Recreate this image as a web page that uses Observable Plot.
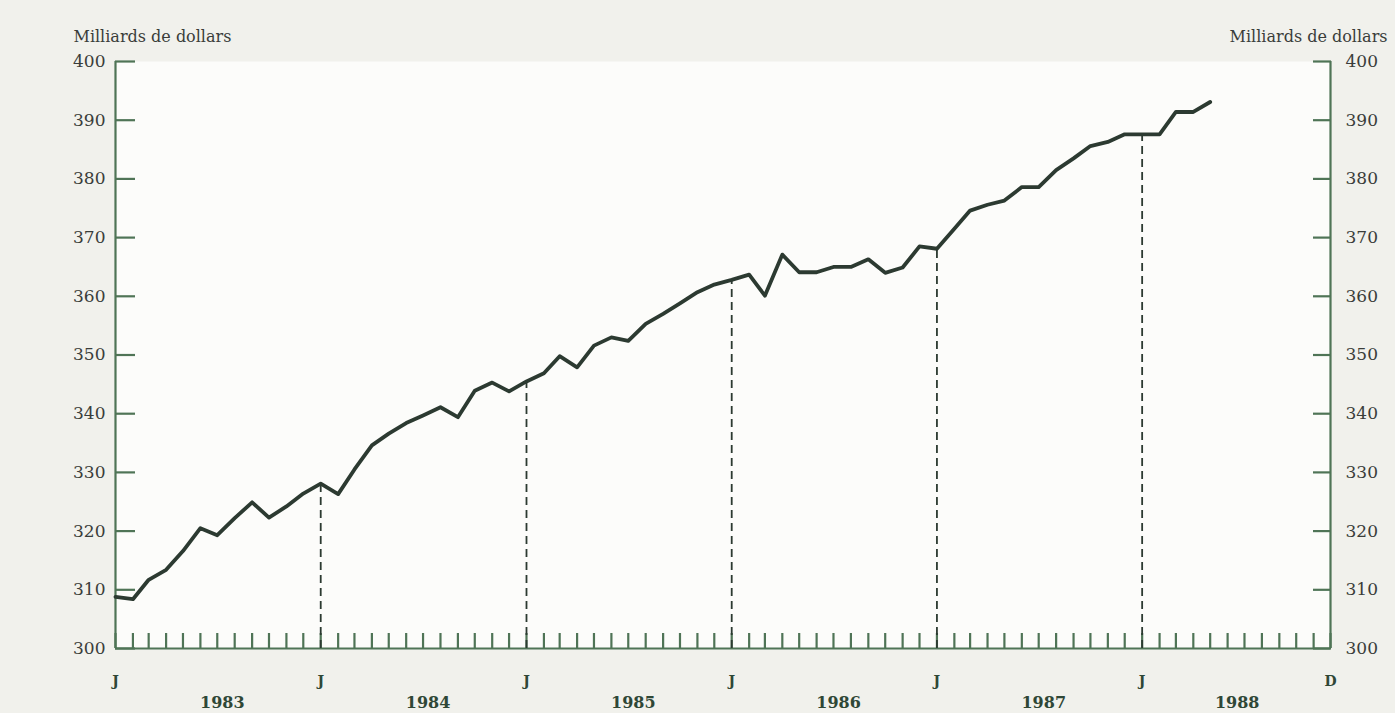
<!DOCTYPE html>
<html>
<head>
<meta charset="utf-8">
<script src="https://cdn.jsdelivr.net/npm/d3@7"></script>
<script src="https://cdn.jsdelivr.net/npm/@observablehq/plot@0.6"></script>
<style>
  html, body { margin: 0; padding: 0; background: #f1f1ec; }
  #chart { width: 1395px; height: 713px; }
</style>
</head>
<body>
<div id="chart"></div>
<script>
// Monthly values, billions of dollars
const years = [1983, 1984, 1985, 1986, 1987, 1988];
const values1983 = [308.8, 308.4, 311.7, 313.4, 316.6, 320.5, 319.3, 322.2, 324.9, 322.3, 324.2, 326.4];
const values1984 = [328.1, 326.3, 330.5, 334.6, 336.6, 338.4, 339.7, 341.1, 339.4, 343.9, 345.3, 343.8];
const values1985 = [345.5, 346.9, 349.8, 347.9, 351.6, 353.0, 352.4, 355.3, 357.0, 358.8, 360.7, 362.0];
const values1986 = [362.8, 363.7, 360.1, 367.1, 364.1, 364.1, 365.0, 365.0, 366.3, 364.0, 364.9, 368.5];
const values1987 = [368.1, 371.5, 374.6, 375.6, 376.3, 378.6, 378.6, 381.5, 383.5, 385.6, 386.3, 387.6];
const values1988 = [387.6, 387.6, 391.4, 391.4, 393.1];
const yTicks = [300, 310, 320, 330, 340, 350, 360, 370, 380, 390, 400];
const yUnit = "Milliards de dollars";
const monthLetterJan = "J";
const monthLetterDec = "D";

const allValues = [values1983, values1984, values1985, values1986, values1987, values1988];
const series = allValues.flatMap((vals, k) =>
  vals.map((v, m) => ({date: new Date(Date.UTC(years[k], m, 1)), value: v})));
const janPoints = series.filter(d => d.date.getUTCMonth() === 0 && d.date.getUTCFullYear() > years[0]);

const xStart = new Date(Date.UTC(years[0], 0, 1));
const xEnd = new Date(Date.UTC(years[years.length - 1], 11, 1));
const monthTicks = d3.utcMonth.range(xStart, new Date(Date.UTC(years[years.length - 1], 11, 2)));
const letterTicks = years.map(y => new Date(Date.UTC(y, 0, 1))).concat([xEnd]);
const lastYear = years[years.length - 1];
const yearTicks = years.map(y => y === lastYear ? new Date(Date.UTC(y, 5, 18)) : new Date(Date.UTC(y, 6, 10)));

const axisColor = "#4f7456";
const lineColor = "#2c3a31";
const textColor = "#3a3d3a";
const boldColor = "#2f4736";

const chart = Plot.plot({
  width: 1395,
  height: 713,
  marginLeft: 115,
  marginRight: 65,
  marginTop: 61,
  marginBottom: 65,
  style: {background: "transparent", fontFamily: "'DejaVu Serif', serif", fontSize: "17px", color: textColor, overflow: "visible"},
  x: {type: "utc", domain: [xStart, xEnd]},
  y: {domain: [300, 400]},
  marks: [
    Plot.frame({fill: "#fcfcfa", stroke: "none"}),
    // axis lines
    Plot.ruleY([300], {stroke: axisColor, strokeWidth: 2.2}),
    Plot.ruleX([xStart], {y1: 300, y2: 400, stroke: axisColor, strokeWidth: 2.2}),
    Plot.ruleX([xEnd], {y1: 300, y2: 400, stroke: axisColor, strokeWidth: 2.2}),
    // y axes (ticks pointing inward)
    Plot.axisY({anchor: "left", ticks: yTicks, tickSize: -20, tickPadding: 30, stroke: axisColor, strokeWidth: 2.2, fill: textColor, label: null, fontSize: 17}),
    Plot.axisY({anchor: "right", ticks: yTicks, tickSize: -18, tickPadding: 33, stroke: axisColor, strokeWidth: 2.2, fill: textColor, label: null, fontSize: 17}),
    // monthly ticks pointing up
    Plot.axisX({ticks: monthTicks, tickSize: -15, tickFormat: () => "", stroke: axisColor, strokeWidth: 2.2, label: null}),
    Plot.axisX({ticks: letterTicks, tickSize: 0, tickPadding: 28, tickFormat: d => d.getUTCMonth() === 0 ? monthLetterJan : monthLetterDec, fill: boldColor, fontWeight: "bold", fontSize: 14, label: null}),
    Plot.axisX({ticks: yearTicks, tickSize: 0, tickPadding: 48, tickFormat: d => String(d.getUTCFullYear()), fill: boldColor, fontWeight: "bold", fontSize: 16, label: null}),
    // dashed January lines
    Plot.ruleX(janPoints, {x: "date", y1: 300, y2: "value", stroke: lineColor, strokeWidth: 1.8, strokeDasharray: "8,5"}),
    // data line
    Plot.lineY(series, {x: "date", y: "value", stroke: lineColor, strokeWidth: 3.8, strokeLinejoin: "round"}),
    // unit labels
    Plot.text([yUnit], {frameAnchor: "top-left", textAnchor: "start", dx: -42, dy: -31, fill: textColor, fontSize: 16}),
    Plot.text([yUnit], {frameAnchor: "top-right", textAnchor: "end", dx: 57, dy: -31, fill: textColor, fontSize: 16})
  ]
});
document.getElementById("chart").appendChild(chart);
</script>
</body>
</html>
